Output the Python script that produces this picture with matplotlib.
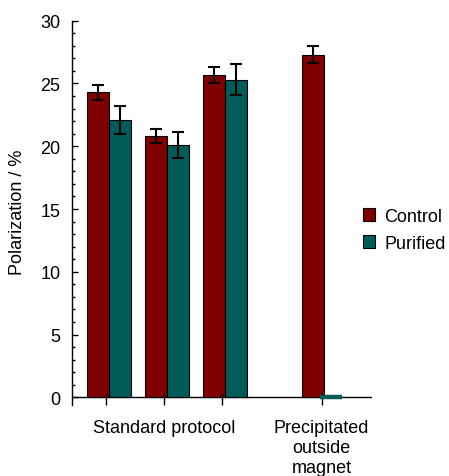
import numpy as np
import matplotlib.pyplot as plt

plt.rcParams['font.family'] = ['Liberation Sans', 'DejaVu Sans']

# values
groups = [0, 1, 2, 3.72]
control = [24.3, 20.8, 25.7, 27.3]
control_err = [0.6, 0.55, 0.65, 0.7]
purified = [22.1, 20.1, 25.3, 0.0]
purified_err = [1.1, 1.0, 1.25, 0.0]
tick_labels = ['', 'Standard protocol', '', 'Precipitated\noutside\nmagnet']

red = '#7f0000'
teal = '#005c59'
w = 0.38

fig = plt.figure(figsize=(4.49, 4.77), dpi=100)
ax = fig.add_axes([0.1597, 0.1478, 0.8285 - 0.1597, 0.9545 - 0.1478])

x = np.array(groups)
err_kw = dict(ecolor='black', elinewidth=1.5, capsize=4, capthick=1.5)
ax.bar(x[:3] - w / 2, control[:3], w, yerr=control_err[:3], color=red,
       edgecolor='black', linewidth=0.8, error_kw=err_kw, label='Control')
ax.bar(x[:3] + w / 2, purified[:3], w, yerr=purified_err[:3], color=teal,
       edgecolor='black', linewidth=0.8, error_kw=err_kw, label='Purified')
ax.bar(x[3] - w / 2, control[3], w, yerr=control_err[3], color=red,
       edgecolor='black', linewidth=0.8, error_kw=err_kw)

ax.axhline(0, color='black', linewidth=1, zorder=0.5)

# the purified value here is zero, it shows only as a flat teal line
x0 = x[3] + w / 2 - 0.08
ax.hlines(purified[3], x0 - w / 2, x0 + w / 2, color=teal, linewidth=3.2,
          zorder=3)

ax.set_xlim(-0.64, 4.54)
ax.set_ylim(-0.65, 30)
ax.set_yticks(np.arange(0, 31, 5))
ax.set_yticks(np.arange(0, 31, 1), minor=True)
ax.tick_params(axis='y', which='major', direction='in', length=4, width=1,
               labelsize=13, pad=8)
ax.tick_params(axis='y', which='minor', direction='in', length=2.2, width=1)
ax.set_xticks(x - 0.05, tick_labels)
ax.tick_params(axis='x', direction='in', length=8.5, width=1,
               labelsize=13, pad=10)

for s in ['top', 'right', 'bottom']:
    ax.spines[s].set_visible(False)
ax.spines['left'].set_linewidth(1)

ax.set_ylabel('Polarization / %', fontsize=13)
ax.yaxis.set_label_coords(-0.152, 0.505)

ax.legend(loc='center left', bbox_to_anchor=(0.915, 0.456), frameon=False,
          fontsize=13, handlelength=0.7, handleheight=0.7, handletextpad=0.5,
          labelspacing=0.55)

plt.savefig('out.png', dpi=100)
